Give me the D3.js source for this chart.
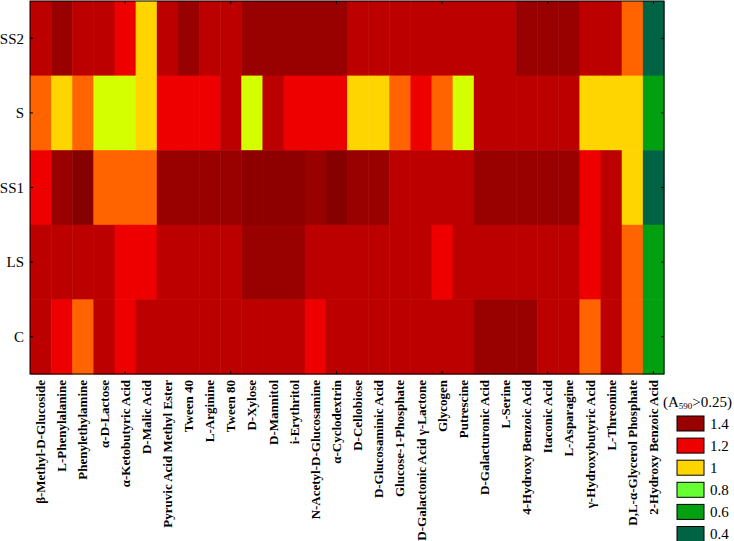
<!DOCTYPE html>
<html lang="en">
<head>
<meta charset="UTF-8">
<script src="https://d3js.org/d3.v7.min.js"></script>
<title>heatmap</title>
<style>
  body { margin: 0; background: #fff; }
  text { font-family: "Liberation Serif", "Times New Roman", serif; }
</style>
</head>
<body>
<svg id="chart" width="734" height="541"></svg>
<script>
// substrates (columns)
const substrates = ["β-Methyl-D-Glucoside", "L-Phenylalanine", "Phenylethylamine", "α-D-Lactose",
  "α-Ketobutyric Acid", "D-Malic Acid", "Pyruvic Acid Methyl Ester", "Tween 40", "L-Arginine",
  "Tween 80", "D-Xylose", "D-Mannitol", "i-Erythritol", "N-Acetyl-D-Glucosamine", "α-Cyclodextrin",
  "D-Cellobiose", "D-Glucosaminic Acid", "Glucose-1-Phosphate", "D-Galactonic Acid γ-Lactone",
  "Glycogen", "Putrescine", "D-Galacturonic Acid", "L-Serine", "4-Hydroxy Benzoic Acid",
  "Itaconic Acid", "L-Asparagine", "γ-Hydroxybutyric Acid", "L-Threonine",
  "D,L-α-Glycerol Phosphate", "2-Hydroxy Benzoic Acid"];

// samples (rows, top to bottom)
const samples = ["SS2", "S", "SS1", "LS", "C"];

// A590 values
const SS2 = [1.35,1.45,1.35,1.35,1.25,1.05,1.35,1.45,1.35,1.35,1.45,1.45,1.45,1.45,1.45,
             1.35,1.35,1.35,1.35,1.35,1.35,1.35,1.35,1.45,1.45,1.45,1.35,1.35,1.15,0.5];
const S   = [1.15,1.05,1.15,0.95,0.95,1.05,1.25,1.25,1.25,1.35,0.95,1.35,1.25,1.25,1.25,
             1.05,1.05,1.15,1.25,1.15,0.95,1.35,1.35,1.35,1.35,1.35,1.05,1.05,1.05,0.7];
const SS1 = [1.25,1.45,1.65,1.15,1.15,1.15,1.45,1.45,1.45,1.45,1.55,1.55,1.55,1.45,1.65,
             1.45,1.45,1.35,1.35,1.35,1.35,1.45,1.45,1.45,1.45,1.45,1.25,1.35,1.05,0.5];
const LS  = [1.35,1.35,1.35,1.35,1.25,1.25,1.35,1.35,1.35,1.35,1.45,1.45,1.45,1.35,1.35,
             1.35,1.35,1.35,1.35,1.25,1.35,1.35,1.35,1.35,1.35,1.35,1.25,1.35,1.15,0.7];
const C   = [1.35,1.25,1.15,1.35,1.25,1.35,1.35,1.35,1.35,1.35,1.35,1.35,1.35,1.25,1.35,
             1.35,1.35,1.35,1.35,1.35,1.35,1.45,1.45,1.45,1.35,1.35,1.15,1.35,1.15,0.7];
const rows = [SS2, S, SS1, LS, C];

// legend
const legendValues = [1.4, 1.2, 1, 0.8, 0.6, 0.4];
const legendLabels = ["1.4", "1.2", "1", "0.8", "0.6", "0.4"];

const color = d3.scaleThreshold()
  .domain([0.6, 0.8, 0.9, 1.0, 1.1, 1.2, 1.3, 1.4, 1.5, 1.6])
  .range(["#006444", "#00a010", "#66ff33", "#d4ff00", "#ffd500", "#ff6400",
          "#ee0000", "#bc0000", "#990000", "#8e0000", "#860000"]);

const svg = d3.select("#chart");
const pLeft = 30, pRight = 664, pTop = 1, pBottom = 374;

const x = d3.scaleBand().domain(substrates).range([pLeft, pRight]);
const y = d3.scaleBand().domain(samples).range([pTop, pBottom]);

const cells = [];
rows.forEach((r, i) => r.forEach((v, j) => cells.push({s: samples[i], c: substrates[j], v: v})));

svg.append("g").selectAll("rect").data(cells).enter().append("rect")
  .attr("x", d => x(d.c))
  .attr("y", d => y(d.s))
  .attr("width", x.bandwidth() + 0.5)
  .attr("height", y.bandwidth() + 0.5)
  .attr("fill", d => color(d.v));

// frame
svg.append("rect").attr("x", pLeft).attr("y", pTop)
  .attr("width", pRight - pLeft).attr("height", pBottom - pTop)
  .attr("fill", "none").attr("stroke", "#000").attr("stroke-width", 1);

// inward ticks
const every5 = substrates.filter((d, i) => i % 5 == 4);
const tk = svg.append("g").attr("stroke", "#000");
every5.forEach(c => {
  const cx = x(c) + x.bandwidth() / 2;
  tk.append("line").attr("x1", cx).attr("x2", cx).attr("y1", pTop).attr("y2", pTop + 3);
  tk.append("line").attr("x1", cx).attr("x2", cx).attr("y1", pBottom).attr("y2", pBottom - 3);
});
samples.forEach(s => {
  const cy = y(s) + y.bandwidth() / 2;
  tk.append("line").attr("x1", pLeft).attr("x2", pLeft + 3).attr("y1", cy).attr("y2", cy);
  tk.append("line").attr("x1", pRight).attr("x2", pRight - 3).attr("y1", cy).attr("y2", cy);
});

// row labels
svg.append("g").selectAll("text").data(samples).enter().append("text")
  .attr("x", 24)
  .attr("y", d => y(d) + y.bandwidth() / 2)
  .attr("dy", "0.35em")
  .attr("text-anchor", "end")
  .style("font-size", "15px")
  .text(d => d);

// column labels
svg.append("g").selectAll("text").data(substrates).enter().append("text")
  .attr("transform", d => "translate(" + (x(d) + x.bandwidth() / 2) + "," + 380 + ") rotate(-90)")
  .attr("dy", "0.35em")
  .attr("text-anchor", "end")
  .style("font-size", "13px")
  .style("font-weight", "bold")
  .text(d => d);

// legend
const lg = svg.append("g");
const lt = lg.append("text").attr("x", 663).attr("y", 407).style("font-size", "15px");
lt.append("tspan").text("(A");
lt.append("tspan").style("font-size", "9px").attr("dy", 2).text("590");
lt.append("tspan").attr("dy", -2).text(">0.25)");

lg.selectAll("rect").data(legendValues).enter().append("rect")
  .attr("x", 677)
  .attr("y", (d, i) => 416 + i * 22.1)
  .attr("width", 27)
  .attr("height", 15)
  .attr("fill", d => color(d + 0.001))
  .attr("stroke", "#000");

lg.selectAll("text.lab").data(legendLabels).enter().append("text")
  .attr("class", "lab")
  .attr("x", 710)
  .attr("y", (d, i) => 416 + i * 22.1 + 7.5)
  .attr("dy", "0.35em")
  .style("font-size", "15px")
  .text(d => d);
</script>
</body>
</html>
